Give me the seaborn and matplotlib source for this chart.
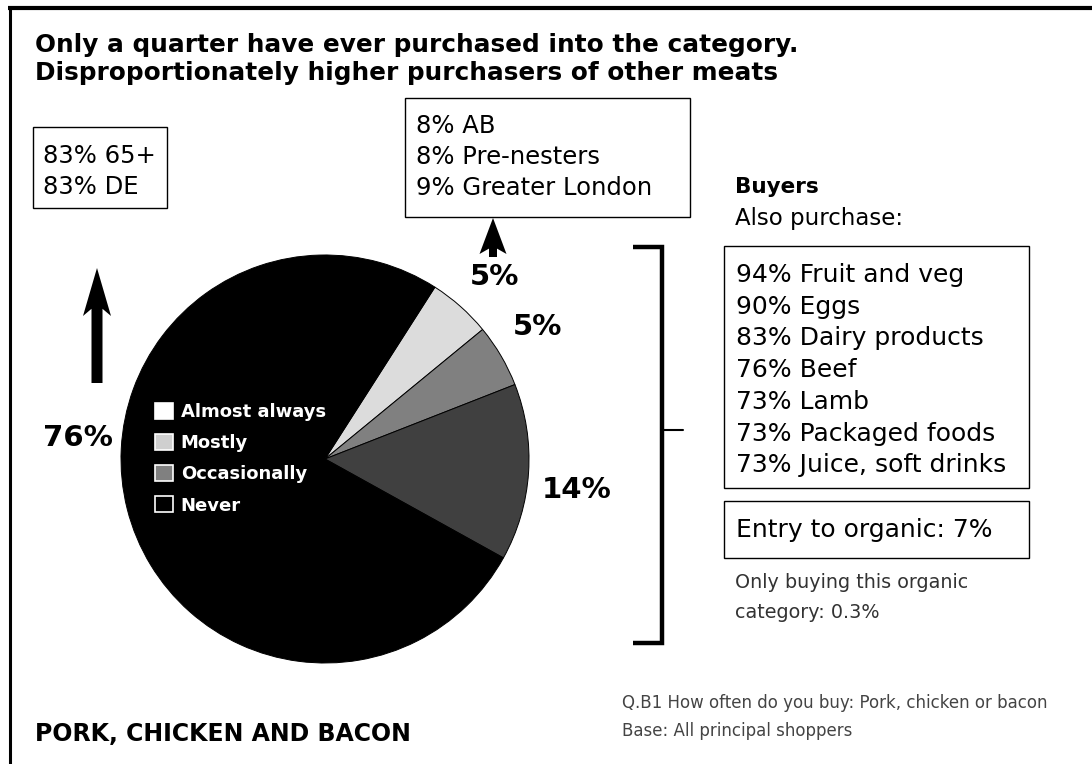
import matplotlib
matplotlib.use("Agg")
import matplotlib.pyplot as plt
from matplotlib.patches import Rectangle, FancyArrow, Patch
import seaborn as sns

# How often shoppers buy pork, chicken or bacon
frequency = ["Almost always", "Mostly", "Occasionally", "Never"]
share = [5, 5, 14, 76]

title_lines = [
    "Only a quarter have ever purchased into the category.",
    "Disproportionately higher purchasers of other meats",
]
never_profile = ["83% 65+", "83% DE"]
buyer_profile = ["8% AB", "8% Pre-nesters", "9% Greater London"]
also_items = ["Fruit and veg", "Eggs", "Dairy products", "Beef", "Lamb",
              "Packaged foods", "Juice, soft drinks"]
also_share = [94, 90, 83, 76, 73, 73, 73]
entry_share = 7
only_share = 0.3
category_name = "PORK, CHICKEN AND BACON"
footnotes = ["Q.B1 How often do you buy: Pork, chicken or bacon",
             "Base: All principal shoppers"]

sns.set_theme(style="white")
plt.rcParams["font.family"] = ["DejaVu Sans"]
plt.rcParams["text.color"] = "black"

slice_colors = sns.color_palette(["#dcdcdc", "#808080", "#404040", "#000000"])
key_colors = sns.color_palette(["#ffffff", "#cfcfcf", "#808080", "#000000"])

W, H = 1092, 764
fig = plt.figure(figsize=(W / 100, H / 100), dpi=100)
fig.patch.set_facecolor("white")

# Pie: centre (325, 459) px, radius 204 px
cx, cy, r = 325, 459, 204
ax = fig.add_axes([(cx - r) / W, (H - cy - r) / H, 2 * r / W, 2 * r / H])
wedges, labels = ax.pie(
    share,
    colors=slice_colors,
    startangle=57.4,
    counterclock=False,
    labels=[f"{v}%" for v in share],
    labeldistance=1.23,
    wedgeprops=dict(edgecolor="black", linewidth=0.7),
    textprops=dict(fontsize=21, fontweight="bold", color="black"),
)
for t in labels:
    t.set_ha("center")
    t.set_va("center")
labels[0].set_position((0.83, 0.89))
labels[1].set_position((1.04, 0.645))
labels[2].set_position((1.235, -0.15))
labels[3].set_position((-1.21, 0.105))
ax.set_xlim(-1, 1)
ax.set_ylim(-1, 1)
ax.set_aspect("equal")

handles = [Patch(facecolor=c, edgecolor="white", linewidth=1.2) for c in key_colors]
leg = ax.legend(
    handles, frequency,
    loc="upper left",
    bbox_to_anchor=(146 / W, 1 - 394 / H),
    bbox_transform=fig.transFigure,
    frameon=False,
    borderpad=0,
    handlelength=0.98,
    handleheight=0.98,
    handletextpad=0.45,
    labelspacing=0.72,
    prop=dict(size=13, weight="bold"),
    labelcolor="white",
)

# Overlay in pixel coordinates for annotations
ov = fig.add_axes([0, 0, 1, 1], zorder=5)
ov.set_xlim(0, W)
ov.set_ylim(H, 0)
ov.axis("off")
ov.patch.set_alpha(0)

# Frame edges
ov.plot([8, W], [8, 8], color="black", lw=3, solid_capstyle="butt")
ov.plot([10, 10], [8, H], color="black", lw=2.2, solid_capstyle="butt")

# Title
for i, line in enumerate(title_lines):
    ov.text(35, 52 + 28 * i, line, fontsize=17.8, fontweight="bold", va="baseline")

def boxed(x0, y0, x1, y1):
    ov.add_patch(Rectangle((x0, y0), x1 - x0, y1 - y0, fill=False,
                           edgecolor="black", lw=1.0))

# Profile of those who never buy
boxed(33, 127, 167, 208)
for i, s in enumerate(never_profile):
    ov.text(43, 163 + 31 * i, s, fontsize=17.5, va="baseline")

# Profile of buyers
boxed(405, 98, 690, 217)
for i, s in enumerate(buyer_profile):
    ov.text(416, 133 + 31 * i, s, fontsize=17.5, va="baseline")

# Arrows
ov.add_patch(FancyArrow(97, 383, 0, -115, width=11, head_width=28,
                        head_length=48, overhang=0.15, length_includes_head=True,
                        color="black", lw=0))
ov.add_patch(FancyArrow(493, 257, 0, -39, width=8, head_width=27,
                        head_length=36, overhang=0.15, length_includes_head=True,
                        color="black", lw=0))

# Bracket linking buyers to the right-hand panel
ov.plot([633, 662, 662, 633], [247, 247, 643, 643], color="black", lw=3.2,
        solid_joinstyle="miter", solid_capstyle="butt")
ov.plot([662, 683], [430, 430], color="black", lw=1.5)

# Buyers panel
ov.text(735, 193, "Buyers", fontsize=15.5, fontweight="bold", va="baseline")
ov.text(735, 225, "Also purchase:", fontsize=16.5, va="baseline")
boxed(724, 246, 1029, 488)
for i, (v, item) in enumerate(zip(also_share, also_items)):
    ov.text(736, 282 + 31.7 * i, f"{v}% {item}", fontsize=18, va="baseline")
boxed(724, 501, 1029, 558)
ov.text(736, 537, f"Entry to organic: {entry_share}%", fontsize=18, va="baseline")
ov.text(735, 588, "Only buying this organic", fontsize=13.8, va="baseline", color="#333333")
ov.text(735, 618, f"category: {only_share}%", fontsize=13.8, va="baseline", color="#333333")

# Footer
ov.text(35, 741, category_name, fontsize=17, fontweight="bold", va="baseline")
for i, s in enumerate(footnotes):
    ov.text(622, 708 + 28 * i, s, fontsize=12, va="baseline", color="#444444")

fig.savefig("out.png", dpi=100, facecolor="white")
